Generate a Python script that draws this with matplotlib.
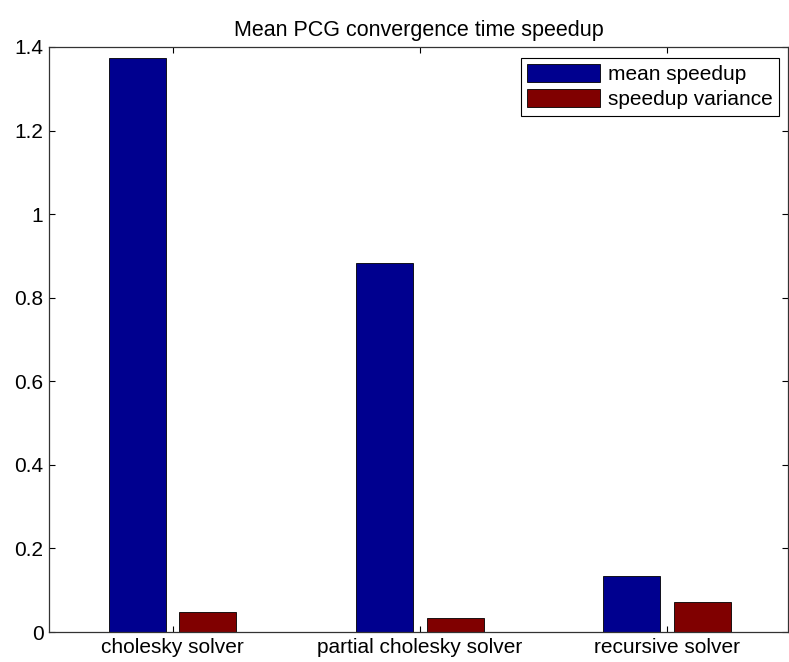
import numpy as np
import matplotlib
matplotlib.use('Agg')
import matplotlib.pyplot as plt

plt.rcParams['font.family'] = ['Liberation Sans', 'DejaVu Sans']

solvers = ['cholesky solver', 'partial cholesky solver', 'recursive solver']
mean_speedup = [1.374, 0.884, 0.133]
speedup_variance = [0.048, 0.034, 0.071]

x = np.arange(1, len(solvers) + 1)
w = 0.23
off = 0.143

fig = plt.figure(figsize=(7.89, 6.62), dpi=100)
ax = fig.add_axes([49 / 789, 30 / 662, 739 / 789, 585 / 662])

ax.bar(x - off, mean_speedup, w, color='#00008f', edgecolor='black',
       linewidth=0.6, label='mean speedup')
ax.bar(x + off, speedup_variance, w, color='#800000', edgecolor='black',
       linewidth=0.6, label='speedup variance')

ax.set_xlim(0.5, 3.49)
ax.set_ylim(0, 1.4)
ax.set_xticks(x)
ax.set_xticklabels(solvers)
ax.set_yticks([0, 0.2, 0.4, 0.6, 0.8, 1, 1.2, 1.4])
ax.set_yticklabels(['0', '0.2', '0.4', '0.6', '0.8', '1', '1.2', '1.4'])
ax.tick_params(direction='in', top=True, right=True, length=4, width=0.8,
               labelsize=15, pad=4)
for s in ax.spines.values():
    s.set_linewidth(0.9)
    s.set_color('#333333')

ax.set_title('Mean PCG convergence time speedup', fontsize=15.5, pad=8)

leg = ax.legend(loc='upper right', bbox_to_anchor=(0.988, 0.982),
                borderaxespad=0, fancybox=False, edgecolor='black',
                fontsize=15, handlelength=3.5, handleheight=0.95,
                handletextpad=0.4, labelspacing=0.25, borderpad=0.3,
                framealpha=1)
leg.get_frame().set_linewidth(0.8)

plt.savefig('out.png', dpi=100)
